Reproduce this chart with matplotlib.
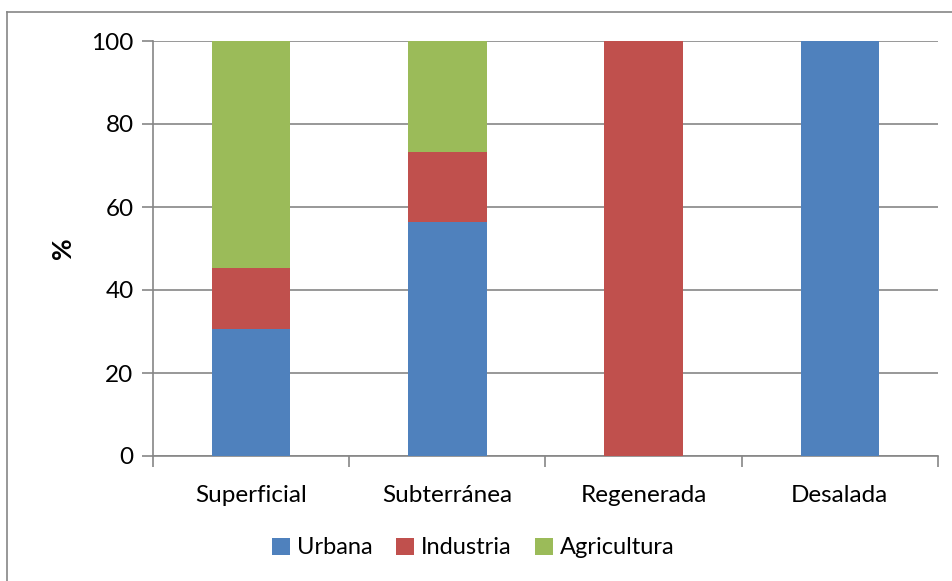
import matplotlib
matplotlib.use("Agg")
import matplotlib.pyplot as plt
import numpy as np
from matplotlib.lines import Line2D

categories = ["Superficial", "Subterránea", "Regenerada", "Desalada"]
urbana = [30.7, 56.3, 0, 100]
industria = [14.5, 17.0, 100, 0]
agricultura = [54.8, 26.7, 0, 0]
series_names = ["Urbana", "Industria", "Agricultura"]
colors = ["#4F81BD", "#C0504D", "#9BBB59"]

plt.rcParams['font.family'] = ['Lato', 'DejaVu Sans']

fig = plt.figure(figsize=(9.53, 5.81), dpi=100)
ax = fig.add_axes([153/953, 1-456/581, (938-153)/953, (456-41)/581])

x = np.arange(len(categories))
w = 0.4
bottom = np.zeros(len(categories))
handles = []
for vals, name, c in zip([urbana, industria, agricultura], series_names, colors):
    b = ax.bar(x, vals, w, bottom=bottom, color=c, label=name, zorder=3)
    bottom += np.array(vals)
    handles.append(b)

ax.set_xlim(-0.5, len(categories) - 0.5)
ax.set_ylim(0, 100)
ax.set_yticks([0, 20, 40, 60, 80, 100])
ax.tick_params(axis='y', length=8, width=1.2, color='#868686', labelsize=17.5, pad=6)
ax.set_xticks(x)
ax.set_xticklabels(categories)
ax.tick_params(axis='x', which='major', length=0, labelsize=17.5, pad=21)
ax.set_xticks(np.arange(-0.5, len(categories), 1), minor=True)
ax.tick_params(axis='x', which='minor', length=8, width=1.2, color='#868686')
ax.yaxis.grid(True, color='#868686', linewidth=1.2, zorder=0)
ax.set_axisbelow(True)
for s in ['top', 'right']:
    ax.spines[s].set_visible(False)
for s in ['left', 'bottom']:
    ax.spines[s].set_color('#868686')
    ax.spines[s].set_linewidth(1.2)

ax.set_ylabel('%', fontsize=19, fontweight='bold', labelpad=12)

fig.legend(handles=handles, labels=series_names, loc='center', bbox_to_anchor=(0.497, 1-548/581),
           ncol=3, frameon=False, fontsize=17, handlelength=0.75, handleheight=0.75,
           handletextpad=0.3, columnspacing=1.0)

# figure border (left and top visible)
fig.add_artist(Line2D([7/953, 7/953], [0, 1-12/581], transform=fig.transFigure, color='#868686', linewidth=1.2))
fig.add_artist(Line2D([7/953, 1], [1-12/581, 1-12/581], transform=fig.transFigure, color='#868686', linewidth=1.2))

fig.savefig('out.png', dpi=100)
